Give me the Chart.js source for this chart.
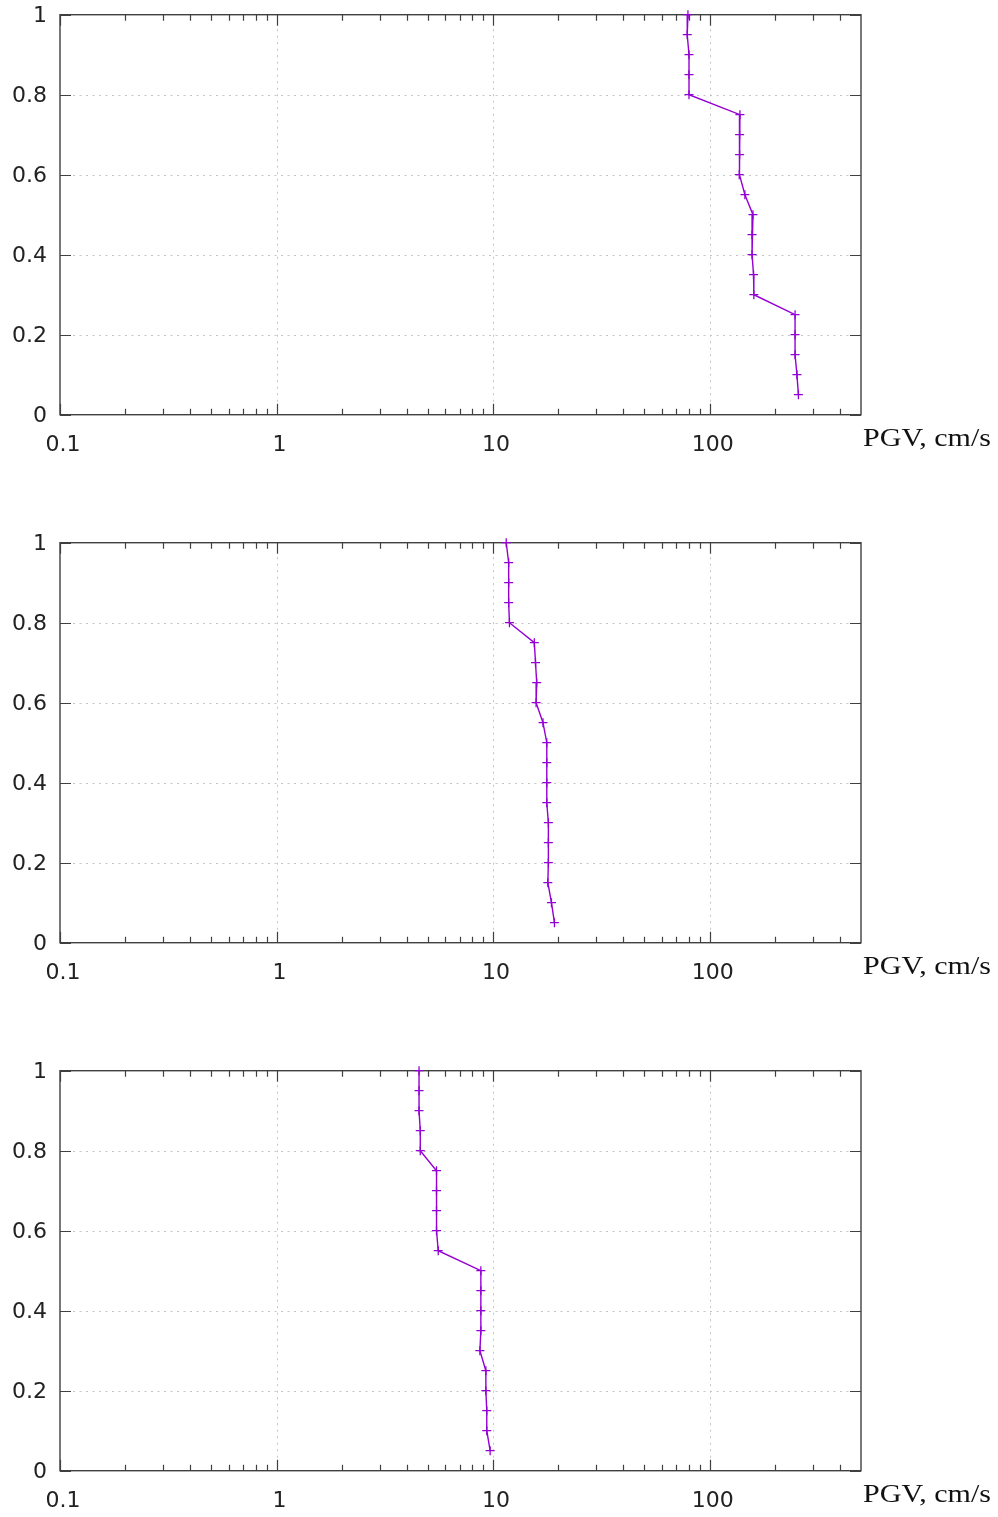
<!DOCTYPE html>
<html><head><meta charset="utf-8">
<script src="https://cdn.jsdelivr.net/npm/chart.js@4/dist/chart.umd.min.js"></script>
<style>
html,body{margin:0;padding:0;background:#fff;overflow:hidden;width:998px;height:1517px}
.panel{position:absolute;left:0;width:998px;height:470px}
canvas{display:block}
</style></head><body>
<div class="panel" style="top:0"><canvas id="c0" width="998" height="470"></canvas></div>
<div class="panel" style="top:528px"><canvas id="c1" width="998" height="470"></canvas></div>
<div class="panel" style="top:1056px"><canvas id="c2" width="998" height="470"></canvas></div>
<script>
// ---- data ----
const depth = [1.0, 0.95, 0.9, 0.85, 0.8, 0.75, 0.7, 0.65, 0.6, 0.55, 0.5, 0.45, 0.4, 0.35, 0.3, 0.25, 0.2, 0.15, 0.1, 0.05];
const pgvTop = [79.4, 78.8, 80.3, 80.3, 80.3, 138, 137.5, 137.5, 137, 145.5, 158.5, 157, 157, 159.5, 160, 248, 248, 248, 253, 257];
const pgvMiddle = [11.5, 11.8, 11.8, 11.8, 11.9, 15.5, 15.7, 15.9, 15.8, 17.0, 17.7, 17.7, 17.7, 17.7, 18.0, 18.0, 18.0, 17.9, 18.6, 19.2];
const pgvBottom = [4.55, 4.55, 4.55, 4.61, 4.61, 5.48, 5.48, 5.48, 5.48, 5.58, 8.78, 8.78, 8.78, 8.78, 8.69, 9.26, 9.26, 9.35, 9.35, 9.69];
const xMajorTicks = [0.1, 1, 10, 100];
const xMinorTicks = [0.2, 0.3, 0.4, 0.5, 0.6, 0.7, 0.8, 0.9, 2, 3, 4, 5, 6, 7, 8, 9, 20, 30, 40, 50, 60, 70, 80, 90, 200, 300, 400];
const xTickLabels = ['0.1', '1', '10', '100'];
const yTicks = [0, 0.2, 0.4, 0.6, 0.8, 1];
const xLabel = 'PGV, cm/s';
const xMin = 0.1, xMax = 500, yMin = 0, yMax = 1;

const LINE_COLOR = '#9400d3';
const FRAME_COLOR = '#404040';

const framePlugin = {
  id: 'gnuframe',
  beforeDatasetsDraw(chart) {
    const {ctx, chartArea: a, scales: {x, y}} = chart;
    ctx.save();
    // dotted grid
    ctx.strokeStyle = '#c4c4c4';
    ctx.lineWidth = 1;
    ctx.setLineDash([2, 4.5]);
    xMajorTicks.forEach(v => {
      if (v <= xMin || v >= xMax) return;
      const px = Math.round(x.getPixelForValue(v)) + 0.5;
      ctx.beginPath(); ctx.moveTo(px, a.bottom); ctx.lineTo(px, a.top); ctx.stroke();
    });
    yTicks.forEach(v => {
      if (v <= yMin || v >= yMax) return;
      const py = Math.round(y.getPixelForValue(v)) + 0.5;
      ctx.beginPath(); ctx.moveTo(a.left, py); ctx.lineTo(a.right, py); ctx.stroke();
    });
    ctx.setLineDash([]);
    // inward ticks
    ctx.strokeStyle = FRAME_COLOR;
    ctx.lineWidth = 1.2;
    const xt = (v, len) => {
      const px = Math.round(x.getPixelForValue(v)) + 0.5;
      ctx.beginPath();
      ctx.moveTo(px, a.bottom); ctx.lineTo(px, a.bottom - len);
      ctx.moveTo(px, a.top); ctx.lineTo(px, a.top + len);
      ctx.stroke();
    };
    xMajorTicks.forEach(v => xt(v, 11));
    xMinorTicks.forEach(v => xt(v, 6));
    yTicks.forEach(v => {
      const py = Math.round(y.getPixelForValue(v)) + 0.5;
      ctx.beginPath();
      ctx.moveTo(a.left, py); ctx.lineTo(a.left + 11, py);
      ctx.moveTo(a.right, py); ctx.lineTo(a.right - 11, py);
      ctx.stroke();
    });
    // frame
    ctx.lineWidth = 1.4;
    ctx.strokeRect(a.left, a.top, a.right - a.left, a.bottom - a.top);
    ctx.restore();
  },
  afterDraw(chart) {
    const {ctx, chartArea: a} = chart;
    ctx.save();
    ctx.font = '26px "Liberation Serif", serif';
    ctx.fillStyle = '#111';
    ctx.textBaseline = 'alphabetic';
    ctx.textAlign = 'left';
    const w = ctx.measureText(xLabel).width;
    ctx.translate(a.right + 2, a.bottom + 31);
    ctx.scale(128 / w, 1);
    ctx.fillText(xLabel, 0, 0);
    ctx.restore();
  }
};

function makeChart(id, values) {
  const pts = depth.map((d, i) => ({x: values[i], y: d}));
  return new Chart(document.getElementById(id), {
    type: 'line',
    data: {
      datasets: [{
        data: pts,
        borderColor: LINE_COLOR,
        backgroundColor: LINE_COLOR,
        borderWidth: 1.4,
        pointStyle: 'cross',
        pointRadius: 4.5,
        pointBorderWidth: 1.3,
        pointBorderColor: LINE_COLOR,
        pointHoverRadius: 4.5,
        tension: 0,
        fill: false,
        clip: false
      }]
    },
    options: {
      responsive: false,
      animation: false,
      devicePixelRatio: 1,
      events: [],
      layout: {padding: {left: 0, right: 137, top: 14.7, bottom: 15.3}},
      plugins: {legend: {display: false}, tooltip: {enabled: false}},
      scales: {
        x: {
          type: 'logarithmic',
          position: 'bottom',
          min: xMin, max: xMax,
          grid: {display: false, drawTicks: false},
          border: {display: false},
          afterBuildTicks(scale) {
            scale.ticks = xMajorTicks.map(v => ({value: v}));
          },
          afterFit(scale) {
            scale.height = 40;
            scale.paddingLeft = 0; scale.paddingRight = 0;
          },
          ticks: {
            autoSkip: false, maxRotation: 0, minRotation: 0,
            padding: 17, labelOffset: 3,
            color: '#222',
            font: {family: '"DejaVu Sans", sans-serif', size: 22},
            callback(value) {
              const i = xMajorTicks.indexOf(value);
              return i >= 0 ? xTickLabels[i] : '';
            }
          }
        },
        y: {
          type: 'linear',
          position: 'left',
          min: yMin, max: yMax,
          grid: {display: false, drawTicks: false},
          border: {display: false},
          afterBuildTicks(scale) {
            scale.ticks = yTicks.map(v => ({value: v}));
          },
          afterFit(scale) {
            scale.width = 60;
            scale.paddingTop = 0; scale.paddingBottom = 0;
          },
          ticks: {
            padding: 13, labelOffset: 2,
            color: '#222',
            font: {family: '"DejaVu Sans", sans-serif', size: 22},
            callback(value) { return String(Math.round(value * 10) / 10); }
          }
        }
      }
    },
    plugins: [framePlugin]
  });
}

makeChart('c0', pgvTop);
makeChart('c1', pgvMiddle);
makeChart('c2', pgvBottom);
</script>
</body></html>
